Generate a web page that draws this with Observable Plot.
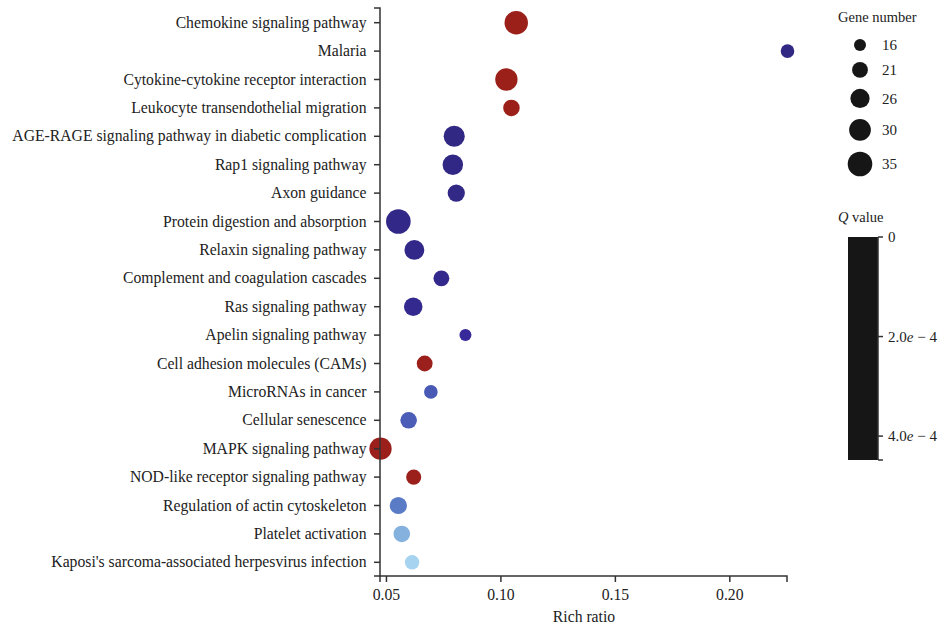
<!DOCTYPE html>
<html>
<head>
<meta charset="utf-8">
<script src="https://cdn.jsdelivr.net/npm/d3@7"></script>
<script src="https://cdn.jsdelivr.net/npm/@observablehq/plot@0.6"></script>
<style>
  html, body { margin: 0; padding: 0; background: #fff; }
  #chart { position: relative; width: 941px; height: 631px; }
</style>
</head>
<body>
<div id="chart"></div>
<script>
const pathways = [
  "Chemokine signaling pathway",
  "Malaria",
  "Cytokine-cytokine receptor interaction",
  "Leukocyte transendothelial migration",
  "AGE-RAGE signaling pathway in diabetic complication",
  "Rap1 signaling pathway",
  "Axon guidance",
  "Protein digestion and absorption",
  "Relaxin signaling pathway",
  "Complement and coagulation cascades",
  "Ras signaling pathway",
  "Apelin signaling pathway",
  "Cell adhesion molecules (CAMs)",
  "MicroRNAs in cancer",
  "Cellular senescence",
  "MAPK signaling pathway",
  "NOD-like receptor signaling pathway",
  "Regulation of actin cytoskeleton",
  "Platelet activation",
  "Kaposi's sarcoma-associated herpesvirus infection"
];
const richRatio = [0.1067, 0.2252, 0.1024, 0.1046, 0.0796, 0.0790, 0.0805, 0.0552, 0.0622, 0.0740,
                   0.0617, 0.0845, 0.0667, 0.0694, 0.0597, 0.0474, 0.0619, 0.0552, 0.0567, 0.0612];
const geneNumber = [33, 18, 31, 22, 29, 28, 23, 35, 27, 21,
                    25, 16, 21, 18, 22, 31, 20, 23, 22, 19];
const qValue = [1.2e-9, 2.0e-5, 3.5e-9, 2.1e-8, 2.5e-5, 2.6e-5, 3.0e-5, 3.3e-5, 4.1e-5, 5.0e-5,
                5.8e-5, 9.5e-5, 6.0e-8, 1.40e-4, 1.45e-4, 8.7e-8, 1.3e-7, 2.2e-4, 3.3e-4, 4.48e-4];

const xTicks = [0.05, 0.10, 0.15, 0.20];
const sizeBreaks = [16, 21, 26, 30, 35];
const qTicks = [0, 2e-4, 4e-4];

// colour ramp of the Q value scale
const qStops = [0, 1e-5, 1e-4, 1.42e-4, 2.2e-4, 3.3e-4, 4.48e-4];
const qColors = ["#9c201a", "#302880", "#37299a", "#4a5cb6", "#5a7cc6", "#85b1df", "#a6d4f0"];

const data = pathways.map((p, i) => ({pathway: p, rich: richRatio[i], genes: geneNumber[i], q: qValue[i]}));

const FONT = "'Liberation Serif', 'Times New Roman', serif";
const AX = "#333";

const plot = Plot.plot({
  width: 941,
  height: 631,
  marginLeft: 380,
  marginRight: 154,
  marginTop: 8,
  marginBottom: 55,
  style: {fontFamily: FONT, fontSize: "15.7px", color: "#222", background: "white", overflow: "visible"},
  x: {domain: d3.extent(richRatio)},
  y: {domain: pathways, padding: 0.5, round: false},
  r: {type: "sqrt", domain: d3.extent(geneNumber), range: [6, 12.3]},
  color: {type: "linear", domain: qStops, range: qColors},
  marks: [
    Plot.dot(data, {x: "rich", y: "pathway", r: "genes", fill: "q"}),
    Plot.axisY({tickSize: 6, tickPadding: 8, label: null, stroke: AX, strokeWidth: 1.5, fontSize: 15.7, fill: "#222"}),
    Plot.axisX({ticks: xTicks, tickFormat: d3.format(".2f"), tickSize: 6, tickPadding: 6,
                label: "Rich ratio", labelAnchor: "center", labelArrow: "none", labelOffset: 45,
                stroke: AX, strokeWidth: 1.5, fontSize: 15.7, fill: "#222"})
  ]
});

document.getElementById("chart").appendChild(plot);

const svg = d3.select(plot);
const xs = plot.scale("x"), ys = plot.scale("y");
const [x0, x1] = xs.range;
const [y0, y1] = ys.range;

// axis domain lines with outer ticks
svg.append("path")
  .attr("d", `M${x0 - 6},${y0}H${x0}V${y1}H${x0 - 6}`)
  .attr("fill", "none").attr("stroke", AX).attr("stroke-width", 1.5);
svg.append("path")
  .attr("d", `M${x0},${y1 + 6}V${y1}H${x1}V${y1 + 6}`)
  .attr("fill", "none").attr("stroke", AX).attr("stroke-width", 1.5);

// ---- size legend ----
const rScale = plot.scale("r");
const gL = svg.append("g").attr("font-family", FONT).attr("font-size", 15).attr("fill", "#222").attr("text-anchor", "start");
gL.append("text").attr("x", 838).attr("y", 22).attr("font-size", 14.5).text("Gene number");
let yPos = 45, prevR = null;
sizeBreaks.forEach((v) => {
  const r = rScale.apply(v);
  if (prevR !== null) yPos += prevR + r + 11;
  gL.append("circle").attr("cx", 860).attr("cy", yPos).attr("r", r).attr("fill", "#161616");
  gL.append("text").attr("x", 882).attr("y", yPos).attr("dy", "0.35em").text(v);
  prevR = r;
});

// ---- Q value legend ----
const barTop = 237, barBottom = 460;
const qs = d3.scaleLinear().domain([0, d3.max(qValue)]).range([barTop, barBottom]);
const gQ = svg.append("g").attr("font-family", FONT).attr("font-size", 15).attr("fill", "#222").attr("text-anchor", "start");
const title = gQ.append("text").attr("x", 838).attr("y", 222).attr("font-size", 14.5);
title.append("tspan").attr("font-style", "italic").text("Q");
title.append("tspan").text(" value");
gQ.append("rect").attr("x", 848).attr("y", barTop).attr("width", 30).attr("height", barBottom - barTop).attr("fill", "#161616");
gQ.append("path").attr("d", `M878,${barTop}V${barBottom}`).attr("stroke", AX).attr("stroke-width", 1.5);
qTicks.forEach((t) => {
  const y = qs(t);
  gQ.append("line").attr("x1", 878).attr("x2", 883).attr("y1", y).attr("y2", y).attr("stroke", AX).attr("stroke-width", 1.5);
  const tx = gQ.append("text").attr("x", 888).attr("y", y).attr("dy", "0.35em");
  if (t === 0) { tx.text("0"); }
  else {
    const e = Math.floor(Math.log10(t));
    const m = t / Math.pow(10, e);
    tx.append("tspan").text(m.toFixed(1));
    tx.append("tspan").attr("font-style", "italic").text("e");
    tx.append("tspan").text(" \u2212 " + Math.abs(e));
  }
});
gQ.append("line").attr("x1", 878).attr("x2", 883).attr("y1", barBottom).attr("y2", barBottom).attr("stroke", AX).attr("stroke-width", 1.5);
</script>
</body>
</html>
